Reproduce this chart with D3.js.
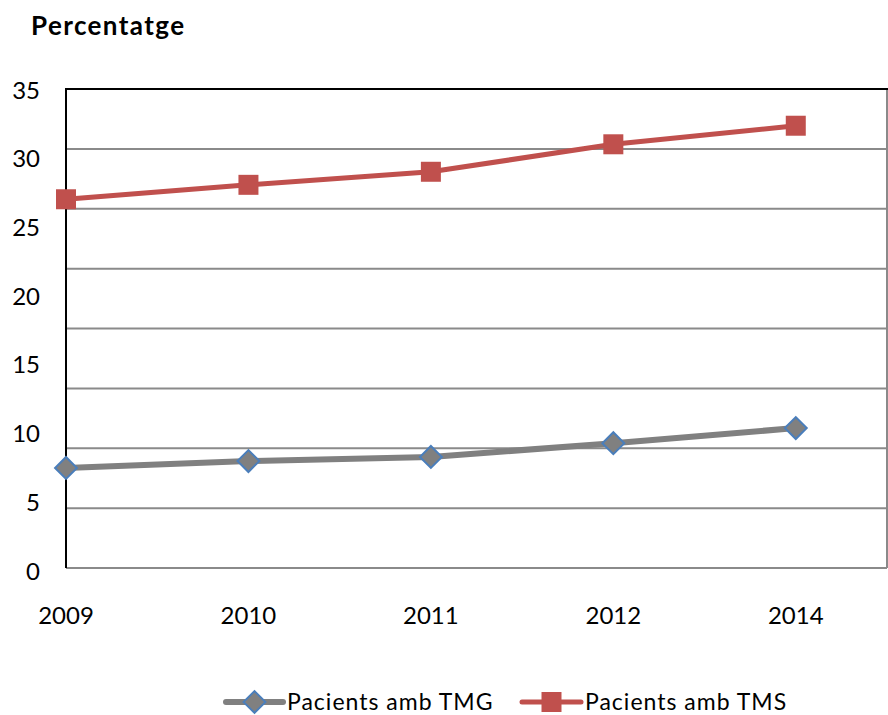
<!DOCTYPE html>
<html>
<head>
<meta charset="utf-8">
<script src="https://cdn.jsdelivr.net/npm/d3@7"></script>
<style>
  body { margin: 0; background: #fff; }
  text { font-family: Lato, "Open Sans", sans-serif; fill: #000; }
</style>
</head>
<body>
<div id="chart"></div>
<script>
var years = ['2009', '2010', '2011', '2012', '2014'];
var tmg = [7.5, 8.0, 8.3, 9.3, 10.4];
var tms = [27.05, 28.1, 29.05, 31.05, 32.4];
var yTicks = [0, 5, 10, 15, 20, 25, 30, 35];
var seriesNames = ['Pacients amb TMG', 'Pacients amb TMS'];

(function () {
  'use strict';

  var width = 888, height = 715;
  var left = 66, right = 887, top = 89, bottom = 568;

  var svg = d3.select('#chart').append('svg')
    .attr('width', width)
    .attr('height', height);

  var x = d3.scaleLinear().domain([0, years.length - 0.5]).range([left, right]);
  // labels and values share this scale
  var y = d3.scaleLinear().domain([0, 35]).range([571, 90]);
  // the gridlines are spaced on their own
  var grid = d3.scaleLinear().domain([0, 40]).range([bottom, top]);

  svg.append('g')
    .selectAll('line')
    .data(d3.range(5, 40, 5))
    .enter().append('line')
    .attr('x1', left).attr('x2', right)
    .attr('y1', function (d) { return grid(d); })
    .attr('y2', function (d) { return grid(d); })
    .attr('stroke', '#8a8a8a')
    .attr('stroke-width', 2);

  // frame
  svg.append('line')
    .attr('x1', left).attr('x2', right)
    .attr('y1', bottom).attr('y2', bottom)
    .attr('stroke', '#8a8a8a').attr('stroke-width', 2);
  svg.append('line')
    .attr('x1', right).attr('x2', right)
    .attr('y1', top).attr('y2', bottom)
    .attr('stroke', '#8a8a8a').attr('stroke-width', 2);
  svg.append('line')
    .attr('x1', left - 1).attr('x2', right + 1)
    .attr('y1', top).attr('y2', top)
    .attr('stroke', '#000').attr('stroke-width', 2);
  svg.append('line')
    .attr('x1', left).attr('x2', left)
    .attr('y1', top).attr('y2', bottom)
    .attr('stroke', '#000').attr('stroke-width', 2);

  // y labels
  svg.append('g')
    .selectAll('text')
    .data(yTicks)
    .enter().append('text')
    .attr('x', 40)
    .attr('y', function (d) { return y(d); })
    .attr('dy', '0.36em')
    .attr('text-anchor', 'end')
    .style('font-size', '24px')
    .text(function (d) { return d; });

  // x labels
  svg.append('g')
    .selectAll('text')
    .data(years)
    .enter().append('text')
    .attr('x', function (d, i) { return x(i); })
    .attr('y', 615)
    .attr('dy', '0.36em')
    .attr('text-anchor', 'middle')
    .style('font-size', '24px')
    .text(function (d) { return d; });

  svg.append('text')
    .attr('x', 31)
    .attr('y', 35)
    .style('font-size', '26px')
    .style('font-weight', 'bold')
    .style('letter-spacing', '1.4px')
    .text('Percentatge');

  var line = d3.line()
    .x(function (d, i) { return x(i); })
    .y(function (d) { return y(d); });

  var diamond = d3.symbol().type(d3.symbolSquare).size(240);
  var square = d3.symbol().type(d3.symbolSquare).size(400);

  // TMG
  svg.append('path')
    .datum(tmg)
    .attr('d', line)
    .attr('fill', 'none')
    .attr('stroke', '#808080')
    .attr('stroke-width', 6);

  svg.append('g')
    .selectAll('path')
    .data(tmg)
    .enter().append('path')
    .attr('d', diamond)
    .attr('transform', function (d, i) {
      return 'translate(' + x(i) + ',' + y(d) + ') rotate(45)';
    })
    .attr('fill', '#808080')
    .attr('stroke', '#4a7ebb')
    .attr('stroke-width', 2);

  // TMS
  svg.append('path')
    .datum(tms)
    .attr('d', line)
    .attr('fill', 'none')
    .attr('stroke', '#c0504d')
    .attr('stroke-width', 5);

  svg.append('g')
    .selectAll('path')
    .data(tms)
    .enter().append('path')
    .attr('d', square)
    .attr('transform', function (d, i) {
      return 'translate(' + x(i) + ',' + y(d) + ')';
    })
    .attr('fill', '#c0504d');

  // legend
  var legend = svg.append('g');
  var lg = [
    { x0: 226, x1: 283, color: '#808080', sw: 6, sym: 'diamond', tx: 287 },
    { x0: 522, x1: 581, color: '#c0504d', sw: 5, sym: 'square', tx: 585 }
  ];

  lg.forEach(function (d, i) {
    var cy = 702, cx = (d.x0 + d.x1) / 2;
    legend.append('line')
      .attr('x1', d.x0).attr('x2', d.x1)
      .attr('y1', cy).attr('y2', cy)
      .attr('stroke', d.color)
      .attr('stroke-width', d.sw)
      .attr('stroke-linecap', 'round');

    if (d.sym === 'diamond') {
      legend.append('path')
        .attr('d', diamond)
        .attr('transform', 'translate(' + cx + ',' + cy + ') rotate(45)')
        .attr('fill', '#808080')
        .attr('stroke', '#4a7ebb')
        .attr('stroke-width', 2);
    } else {
      legend.append('path')
        .attr('d', square)
        .attr('transform', 'translate(' + cx + ',' + cy + ')')
        .attr('fill', '#c0504d');
    }

    legend.append('text')
      .attr('x', d.tx)
      .attr('y', 710)
      .style('font-size', '23px')
      .style('letter-spacing', '1px')
      .text(seriesNames[i]);
  });
}());
</script>
</body>
</html>
